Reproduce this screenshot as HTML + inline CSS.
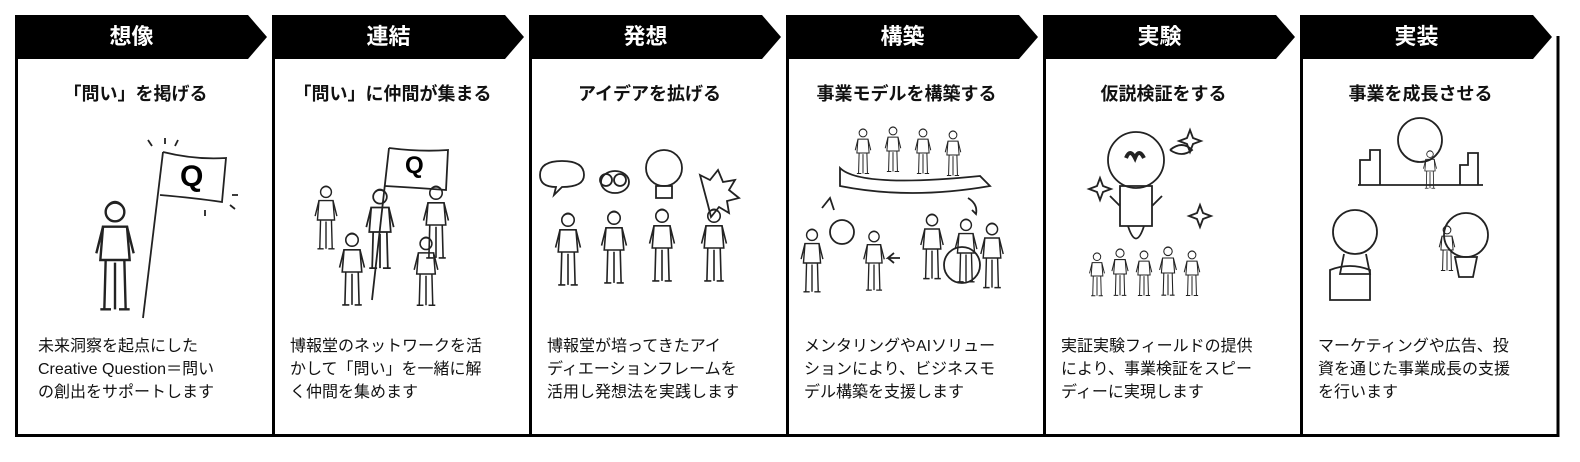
<!DOCTYPE html>
<html><head><meta charset="utf-8">
<style>
body{margin:0;width:1580px;height:462px;background:#fff;position:relative;overflow:hidden;font-family:"Liberation Sans","Noto Sans CJK JP",sans-serif;}
.hd{position:absolute;top:15px;height:44px;width:252px;}
.hd span{position:absolute;left:0;width:233px;top:0;line-height:44px;text-align:center;color:#fff;font-weight:bold;font-size:22px;}
.box{position:absolute;top:59px;height:375px;width:254px;border-left:3px solid #000;border-bottom:3px solid #000;}
.sub{position:absolute;top:80px;width:257px;text-align:center;font-weight:bold;font-size:18px;color:#111;padding-right:16px;box-sizing:border-box;}
.desc{position:absolute;top:335px;width:235px;font-size:16px;line-height:23px;color:#111;}
svg.il{position:absolute;left:0;top:0;}
</style></head><body>
<svg class="il" width="1580" height="462" viewBox="0 0 1580 462">
<defs>
<symbol id="p" viewBox="0 0 30 90"><g fill="none" stroke="#222" stroke-width="1.8"><circle cx="15" cy="9" r="7"/><path d="M6 20 L24 20 L26 45 L4 45 Z"/><path d="M8 45 L7 82 M22 45 L23 82 M15 47 L15 82 M6 20 L1 40 M24 20 L29 40 M10 4 q5-5 10 0"/><path d="M4 82 h8 M18 82 h8"/></g></symbol>
</defs>
<g fill="#000">
<polygon points="15,15 248,15 267,37 248,59 15,59"/>
<polygon points="272,15 505,15 524,37 505,59 272,59"/>
<polygon points="529,15 762,15 781,37 762,59 529,59"/>
<polygon points="786,15 1019,15 1038,37 1019,59 786,59"/>
<polygon points="1043,15 1276,15 1295,37 1276,59 1043,59"/>
<polygon points="1300,15 1533,15 1552,37 1533,59 1300,59"/>
</g>
<line x1="1558" y1="36" x2="1558" y2="437" stroke="#000" stroke-width="3"/>
<g fill="none" stroke="#222" stroke-width="1.8">
<!-- col1 -->
<path d="M143 318 L163 152"/><path d="M163 152 Q195 160 226 158 L222 202 Q195 198 160 195"/>
<path d="M148 140 l4 6 M165 138 v6 M178 140 l-3 6 M232 195 h6 M230 205 l5 4 M205 210 v6"/>
<!-- col2 -->
<path d="M372 300 L389 148"/><path d="M389 148 Q420 152 448 150 L446 190 Q420 188 385 186"/>
<!-- col3 bubbles -->
<path d="M540 175 q0-14 22-14 q22 0 22 14 q0 12-22 12 l-8 8 l2-8 q-16 0-16-12z"/>
<ellipse cx="615" cy="182" rx="14" ry="11"/><circle cx="606" cy="180" r="6"/><circle cx="620" cy="180" r="6"/>
<circle cx="664" cy="168" r="18"/><path d="M656 186 h16 v12 h-16z"/>
<path d="M700 175 l10 5 l8-10 l5 12 l12-2 l-6 10 l10 8 l-12 3 l2 12 l-10-6 l-8 10 l-3-12z"/>
<!-- col4 -->
<path d="M840 168 q20 20 140 8 l10 10 q-80 14-150 0z"/>
<path d="M822 208 l8-10 l4 12 M968 198 q10 6 8 16 l-4-4 M900 258 h-12 l6-5 M888 258 l6 5"/>
<circle cx="842" cy="232" r="12"/><circle cx="962" cy="265" r="18"/>
<!-- col5 rocket -->
<circle cx="1136" cy="160" r="28"/><path d="M1120 186 h32 v40 h-32z M1110 196 l10 10 M1162 196 l-10 10 M1128 226 q8 25 16 0"/>
<path d="M1126 158 q4-10 9 0 q4-10 9 0" stroke-width="4"/>
<path d="M1100 178 l3 8 l8 3 l-8 3 l-3 8 l-3-8 l-8-3 l8-3z M1190 130 l3 8 l8 3 l-8 3 l-3 8 l-3-8 l-8-3 l8-3z M1200 205 l3 8 l8 3 l-8 3 l-3 8 l-3-8 l-8-3 l8-3z"/>
<path d="M1170 150 q12-10 22 0 q-10 8-22 0"/>
<!-- col6 -->
<path d="M1360 185 v-25 h10 v-10 h10 v35 M1460 185 v-20 h8 v-12 h10 v32 M1358 185 h125"/>
<circle cx="1420" cy="140" r="22"/><circle cx="1355" cy="232" r="22"/><circle cx="1466" cy="235" r="22"/>
<path d="M1455 257 h22 l-4 20 h-14z M1344 254 l-4 20 h30 l-4-20"/>
<path d="M1330 270 q20-8 40 0 v30 h-40z"/>
</g>
<!-- people -->
<use href="#p" x="85" y="200" width="60" height="120"/>
<use href="#p" x="308" y="185" width="36" height="70"/>
<use href="#p" x="362" y="188" width="36" height="88"/>
<use href="#p" x="334" y="232" width="36" height="80"/>
<use href="#p" x="418" y="185" width="36" height="80"/>
<use href="#p" x="408" y="236" width="36" height="76"/>
<use href="#p" x="548" y="212" width="40" height="80"/>
<use href="#p" x="594" y="210" width="40" height="80"/>
<use href="#p" x="642" y="208" width="40" height="80"/>
<use href="#p" x="694" y="208" width="40" height="80"/>
<use href="#p" x="850" y="128" width="26" height="50"/>
<use href="#p" x="880" y="126" width="26" height="50"/>
<use href="#p" x="910" y="128" width="26" height="50"/>
<use href="#p" x="940" y="130" width="26" height="50"/>
<use href="#p" x="800" y="228" width="24" height="70"/>
<use href="#p" x="862" y="230" width="24" height="66"/>
<use href="#p" x="920" y="212" width="24" height="74"/>
<use href="#p" x="954" y="218" width="24" height="70"/>
<use href="#p" x="980" y="222" width="24" height="72"/>
<use href="#p" x="1085" y="252" width="24" height="48"/>
<use href="#p" x="1108" y="248" width="24" height="52"/>
<use href="#p" x="1132" y="250" width="24" height="50"/>
<use href="#p" x="1156" y="246" width="24" height="54"/>
<use href="#p" x="1180" y="250" width="24" height="50"/>
<use href="#p" x="1418" y="150" width="24" height="42"/>
<use href="#p" x="1435" y="225" width="24" height="50"/>
</svg>

<div class="hd" style="left:15px"><span>想像</span></div>
<div class="hd" style="left:272px"><span>連結</span></div>
<div class="hd" style="left:529px"><span>発想</span></div>
<div class="hd" style="left:786px"><span>構築</span></div>
<div class="hd" style="left:1043px"><span>実験</span></div>
<div class="hd" style="left:1300px"><span>実装</span></div>

<div class="box" style="left:15px"></div>
<div class="box" style="left:272px"></div>
<div class="box" style="left:529px"></div>
<div class="box" style="left:786px"></div>
<div class="box" style="left:1043px"></div>
<div class="box" style="left:1300px;width:255px"></div>

<div class="sub" style="left:15px">「問い」を掲げる</div>
<div class="sub" style="left:272px">「問い」に仲間が集まる</div>
<div class="sub" style="left:529px">アイデアを拡げる</div>
<div class="sub" style="left:786px">事業モデルを構築する</div>
<div class="sub" style="left:1043px">仮説検証をする</div>
<div class="sub" style="left:1300px">事業を成長させる</div>

<div class="desc" style="left:38px">未来洞察を起点にした<br>Creative Question＝問い<br>の創出をサポートします</div>
<div class="desc" style="left:290px">博報堂のネットワークを活<br>かして「問い」を一緒に解<br>く仲間を集めます</div>
<div class="desc" style="left:547px">博報堂が培ってきたアイ<br>ディエーションフレームを<br>活用し発想法を実践します</div>
<div class="desc" style="left:804px">メンタリングやAIソリュー<br>ションにより、ビジネスモ<br>デル構築を支援します</div>
<div class="desc" style="left:1061px">実証実験フィールドの提供<br>により、事業検証をスピー<br>ディーに実現します</div>
<div class="desc" style="left:1318px">マーケティングや広告、投<br>資を通じた事業成長の支援<br>を行います</div>

<div style="position:absolute;left:180px;top:160px;font:bold 30px 'Liberation Sans',sans-serif;color:#000">Q</div>
<div style="position:absolute;left:405px;top:152px;font:bold 24px 'Liberation Sans',sans-serif;color:#000">Q</div>
</body></html>
